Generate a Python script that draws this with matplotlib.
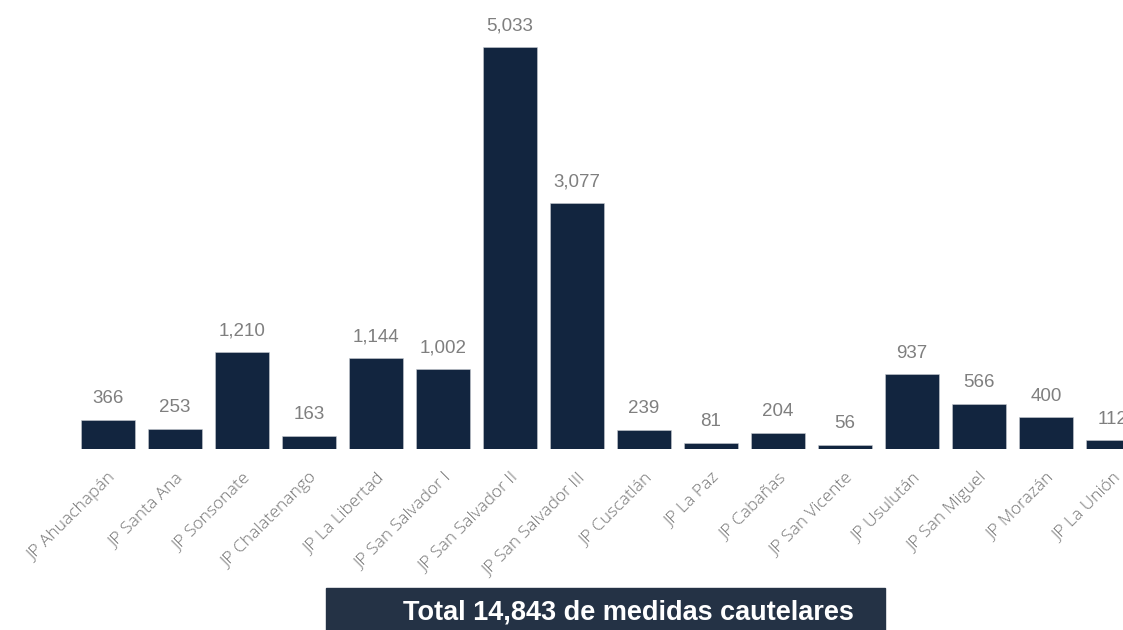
import matplotlib
matplotlib.use("Agg")
from matplotlib import pyplot as plt
from matplotlib.patches import Rectangle

juzgados = ["JP Ahuachapán", "JP Santa Ana", "JP Sonsonate", "JP Chalatenango",
            "JP La Libertad", "JP San Salvador I", "JP San Salvador II",
            "JP San Salvador III", "JP Cuscatlán", "JP La Paz", "JP Cabañas",
            "JP San Vicente", "JP Usulután", "JP San Miguel", "JP Morazán",
            "JP La Unión"]
medidas = [366, 253, 1210, 163, 1144, 1002, 5033, 3077, 239, 81, 204, 56,
           937, 566, 400, 112]
total_txt = "Total 14,843 de medidas cautelares"

W, H = 1123, 630
bar_color = "#12253f"
box_color = "#243245"

fig = plt.figure(figsize=(W / 100, H / 100), dpi=100)
# axes placed so that baseline sits at y=449 px and bars pitch 67 px
ax = fig.add_axes([0, 181 / H, 1, 449 / H])
x = list(range(len(medidas)))
ax.bar(x, medidas, width=0.82, color=bar_color, edgecolor="#c8ccd2", linewidth=0.4)
ax.set_xlim((0 - 108) / 67, (W - 108) / 67)
ax.set_ylim(0, 449 / 402 * 5033)

for xi, v in zip(x, medidas):
    ax.annotate(f"{v:,}", (xi, v), xytext=(0, 9), textcoords="offset points",
                ha="center", va="bottom", color="#7f7f7f", fontsize=13.5,
                family="Liberation Sans")

ax.set_xticks(x)
ax.set_xticklabels(juzgados, rotation=45, ha="right", va="top",
                   rotation_mode="anchor", color="#757575", fontsize=12.5,
                   family="Open Sans", fontweight="light")
ax.tick_params(axis="x", length=0, pad=15)
ax.set_yticks([])
for s in ax.spines.values():
    s.set_visible(False)

fig.patches.append(Rectangle((326 / W, 0), (885 - 326) / W, 42 / H,
                             transform=fig.transFigure, color=box_color,
                             zorder=0))
fig.text(628 / W, 18 / H, total_txt, ha="center", va="center", color="white",
         fontsize=19.5, fontweight="bold", family="Liberation Sans")

fig.savefig("out.png", dpi=100)
